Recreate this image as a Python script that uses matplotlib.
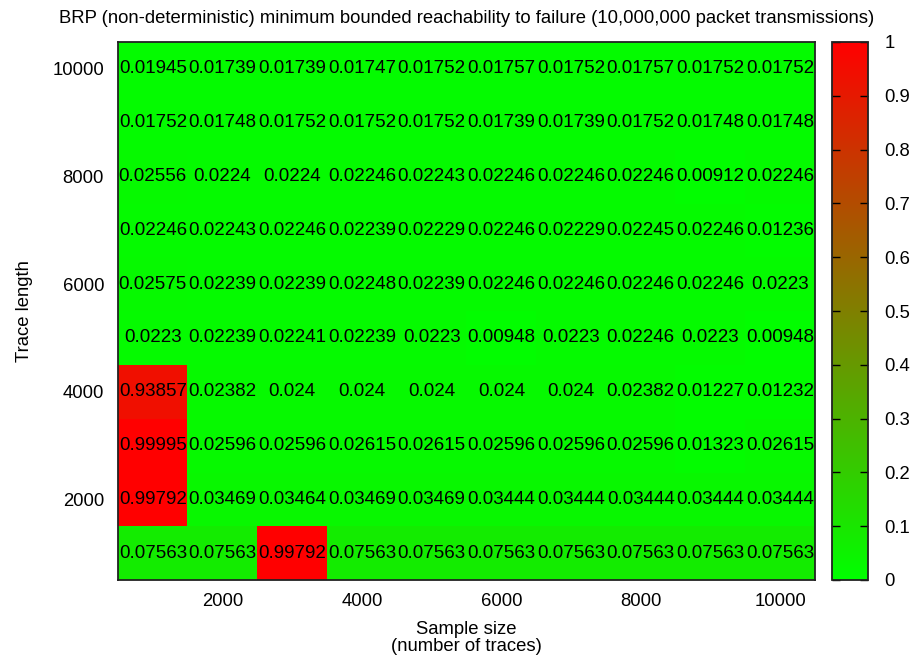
import numpy as np
import matplotlib
matplotlib.use("Agg")
import matplotlib.pyplot as plt
from matplotlib.colors import LinearSegmentedColormap
from matplotlib.ticker import FuncFormatter

plt.rcParams['font.family'] = ['Liberation Sans', 'DejaVu Sans']

sample_sizes = [1000, 2000, 3000, 4000, 5000, 6000, 7000, 8000, 9000, 10000]
trace_lengths = [1000, 2000, 3000, 4000, 5000, 6000, 7000, 8000, 9000, 10000]

# rows ordered by trace length, 1000 first
row_1000 = [0.07563, 0.07563, 0.99792, 0.07563, 0.07563, 0.07563, 0.07563, 0.07563, 0.07563, 0.07563]
row_2000 = [0.99792, 0.03469, 0.03464, 0.03469, 0.03469, 0.03444, 0.03444, 0.03444, 0.03444, 0.03444]
row_3000 = [0.99995, 0.02596, 0.02596, 0.02615, 0.02615, 0.02596, 0.02596, 0.02596, 0.01323, 0.02615]
row_4000 = [0.93857, 0.02382, 0.024, 0.024, 0.024, 0.024, 0.024, 0.02382, 0.01227, 0.01232]
row_5000 = [0.0223, 0.02239, 0.02241, 0.02239, 0.0223, 0.00948, 0.0223, 0.02246, 0.0223, 0.00948]
row_6000 = [0.02575, 0.02239, 0.02239, 0.02248, 0.02239, 0.02246, 0.02246, 0.02246, 0.02246, 0.0223]
row_7000 = [0.02246, 0.02243, 0.02246, 0.02239, 0.02229, 0.02246, 0.02229, 0.02245, 0.02246, 0.01236]
row_8000 = [0.02556, 0.0224, 0.0224, 0.02246, 0.02243, 0.02246, 0.02246, 0.02246, 0.00912, 0.02246]
row_9000 = [0.01752, 0.01748, 0.01752, 0.01752, 0.01752, 0.01739, 0.01739, 0.01752, 0.01748, 0.01748]
row_10000 = [0.01945, 0.01739, 0.01739, 0.01747, 0.01752, 0.01757, 0.01752, 0.01757, 0.01752, 0.01752]

x_ticks = [2000, 4000, 6000, 8000, 10000]
y_ticks = [2000, 4000, 6000, 8000, 10000]
cb_ticks = [0, 0.1, 0.2, 0.3, 0.4, 0.5, 0.6, 0.7, 0.8, 0.9, 1]

title = "BRP (non-deterministic) minimum bounded reachability to failure (10,000,000 packet transmissions)"

grid = np.array([row_1000, row_2000, row_3000, row_4000, row_5000,
                 row_6000, row_7000, row_8000, row_9000, row_10000])

cmap = LinearSegmentedColormap.from_list("green_red", [(0, 1, 0), (1, 0, 0)])

fig = plt.figure(figsize=(9.10, 6.57), dpi=100)
ax = fig.add_axes([118 / 910, 1 - 580 / 657, (815 - 118) / 910, (580 - 42) / 657])
cax = fig.add_axes([832 / 910, 1 - 580 / 657, (868 - 832) / 910, (580 - 42) / 657])

step_x = sample_sizes[1] - sample_sizes[0]
step_y = trace_lengths[1] - trace_lengths[0]
extent = [sample_sizes[0] - step_x / 2, sample_sizes[-1] + step_x / 2,
          trace_lengths[0] - step_y / 2, trace_lengths[-1] + step_y / 2]
im = ax.imshow(grid, cmap=cmap, vmin=0, vmax=1, origin='lower',
               extent=extent, aspect='auto', interpolation='nearest')

fs = 13.3
for i, ty in enumerate(trace_lengths):
    for j, sx in enumerate(sample_sizes):
        ax.text(sx, ty, "{:g}".format(grid[i, j]), ha='center', va='center',
                fontsize=13.5, color='black')

ax.set_xticks(x_ticks)
ax.set_yticks(y_ticks)
ax.set_xticklabels([str(v) for v in x_ticks], fontsize=fs)
ax.set_yticklabels([str(v) for v in y_ticks], fontsize=fs)
ax.tick_params(axis='x', length=0, pad=9)
ax.tick_params(axis='y', length=0, pad=10)
for s in ax.spines.values():
    s.set_linewidth(1.3)
    s.set_color('#222222')

ax.set_xlabel("Sample size\n(number of traces)", fontsize=fs, labelpad=8, linespacing=1.0)
ax.set_ylabel("Trace length", fontsize=fs, labelpad=14)
ax.set_title(title, fontsize=fs, pad=14)

cb = fig.colorbar(im, cax=cax, ticks=cb_ticks)
cb.outline.set_linewidth(1.3)
cb.outline.set_edgecolor('#222222')
cax.yaxis.set_major_formatter(FuncFormatter(lambda v, p: "{:g}".format(v)))
cax.tick_params(axis='y', direction='in', length=6, width=1, labelsize=fs,
                left=True, right=True, pad=12)

fig.savefig("out.png", dpi=100)
